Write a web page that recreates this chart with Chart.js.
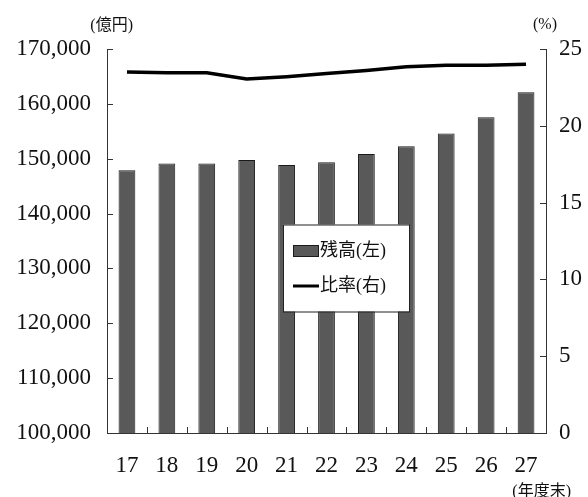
<!DOCTYPE html>
<html lang="ja">
<head>
<meta charset="utf-8">
<script src="https://cdn.jsdelivr.net/npm/chart.js@4.4.1/dist/chart.umd.min.js"></script>
<style>
  html, body { margin: 0; padding: 0; background: #ffffff; }
  #wrap { width: 588px; height: 497px; }
</style>
</head>
<body>
<div id="wrap"><canvas id="c" width="588" height="497"></canvas></div>
<script>
// 年度末（平成17〜27年度）
const years = ['17', '18', '19', '20', '21', '22', '23', '24', '25', '26', '27'];
// 残高（億円・左軸）
const balance = [147900, 149150, 149150, 149750, 148850, 149350, 150850, 152250, 154600, 157550, 162100];
// 比率（％・右軸）
const ratio = [23.5, 23.45, 23.45, 23.05, 23.2, 23.4, 23.6, 23.85, 23.95, 23.95, 24.0];
// 軸目盛
const leftTicks = [100000, 110000, 120000, 130000, 140000, 150000, 160000, 170000];
const rightTicks = [0, 5, 10, 15, 20, 25];

const serif = '"Liberation Serif", "Noto Sans CJK JP", serif';
const cjk = '"Liberation Serif", "Noto Sans CJK JP", serif';
const ink = '#111111';
const axisColor = '#333333';

// 内向きの目盛線・単位表示・凡例を描くプラグイン
const decorations = {
  id: 'decorations',
  afterDraw(chart) {
    const ctx = chart.ctx;
    const a = chart.chartArea;
    const x = chart.scales.x, yL = chart.scales.y, yR = chart.scales.y1;
    ctx.save();
    ctx.strokeStyle = axisColor;
    ctx.lineWidth = 1;
    ctx.beginPath();
    yL.ticks.forEach(t => {
      const py = Math.round(yL.getPixelForValue(t.value)) + 0.5;
      ctx.moveTo(a.left, py); ctx.lineTo(a.left + 6, py);
    });
    yR.ticks.forEach(t => {
      const py = Math.round(yR.getPixelForValue(t.value)) + 0.5;
      ctx.moveTo(a.right - 6, py); ctx.lineTo(a.right, py);
    });
    for (let i = 1; i < years.length; i++) {
      const px = Math.round((x.getPixelForValue(i - 1) + x.getPixelForValue(i)) / 2) + 0.5;
      ctx.moveTo(px, a.bottom); ctx.lineTo(px, a.bottom - 6);
    }
    ctx.stroke();

    // 単位
    ctx.fillStyle = ink;
    ctx.font = '16px ' + cjk;
    ctx.textBaseline = 'middle';
    ctx.textAlign = 'right';
    ctx.fillText('(億円)', 133, 26);
    ctx.textAlign = 'center';
    ctx.fillText('(%)', 545, 25);
    ctx.textAlign = 'right';
    ctx.fillText('(年度末)', 571, 492);

    // 凡例
    const bx = 283, by = 224.5, bw = 126, bh = 87;
    ctx.fillStyle = '#ffffff';
    ctx.fillRect(bx, by, bw, bh);
    ctx.strokeStyle = '#222222';
    ctx.strokeRect(bx + 0.5, by + 0.5, bw, bh);
    const ds = chart.data.datasets;
    const barDs = ds[0], lineDs = ds[1];
    ctx.fillStyle = barDs.backgroundColor;
    ctx.fillRect(293, 245, 26, 12);
    ctx.strokeStyle = barDs.borderColor;
    ctx.lineWidth = 1;
    ctx.strokeRect(293.5, 245.5, 25, 11);
    ctx.strokeStyle = lineDs.borderColor;
    ctx.lineWidth = 3;
    ctx.beginPath();
    ctx.moveTo(293, 286); ctx.lineTo(319, 286);
    ctx.stroke();
    ctx.fillStyle = ink;
    ctx.font = '18px ' + cjk;
    ctx.textAlign = 'left';
    ctx.textBaseline = 'middle';
    ctx.fillText(barDs.label, 320, 251);
    ctx.fillText(lineDs.label, 320, 286);
    ctx.restore();
  }
};

new Chart(document.getElementById('c'), {
  data: {
    labels: years,
    datasets: [
      {
        type: 'bar',
        label: '残高(左)',
        data: balance,
        yAxisID: 'y',
        backgroundColor: '#595959',
        borderColor: '#1a1a1a',
        borderWidth: 1,
        borderSkipped: 'bottom',
        barPercentage: 0.42,
        categoryPercentage: 1.0,
        order: 2
      },
      {
        type: 'line',
        label: '比率(右)',
        data: ratio,
        yAxisID: 'y1',
        borderColor: '#000000',
        borderWidth: 3.5,
        pointRadius: 0,
        tension: 0,
        fill: false,
        order: 1
      }
    ]
  },
  options: {
    responsive: false,
    devicePixelRatio: 1,
    animation: false,
    layout: { padding: { top: 49, left: 0, right: 0, bottom: 0 } },
    plugins: { legend: { display: false }, tooltip: { enabled: false } },
    scales: {
      x: {
        type: 'category',
        offset: true,
        grid: { display: false, drawTicks: false, offset: true },
        border: { display: true, color: axisColor, width: 1 },
        ticks: { color: ink, font: { family: serif, size: 23 }, padding: 19, maxRotation: 0 },
        afterFit(s) { s.height = 64; }
      },
      y: {
        position: 'left',
        min: 100000, max: 170000,
        afterBuildTicks(s) { s.ticks = leftTicks.map(v => ({ value: v })); },
        grid: { display: false, drawTicks: false },
        border: { display: true, color: axisColor, width: 1 },
        ticks: {
          color: ink, font: { family: serif, size: 23 }, padding: 16,
          callback: v => v.toLocaleString('en-US')
        },
        afterFit(s) { s.width = 107; }
      },
      y1: {
        position: 'right',
        min: 0, max: 25,
        afterBuildTicks(s) { s.ticks = rightTicks.map(v => ({ value: v })); },
        grid: { display: false, drawTicks: false },
        border: { display: true, color: axisColor, width: 1 },
        ticks: { color: ink, font: { family: serif, size: 23 }, padding: 13 },
        afterFit(s) { s.width = 42; }
      }
    }
  },
  plugins: [decorations]
});
</script>
</body>
</html>
